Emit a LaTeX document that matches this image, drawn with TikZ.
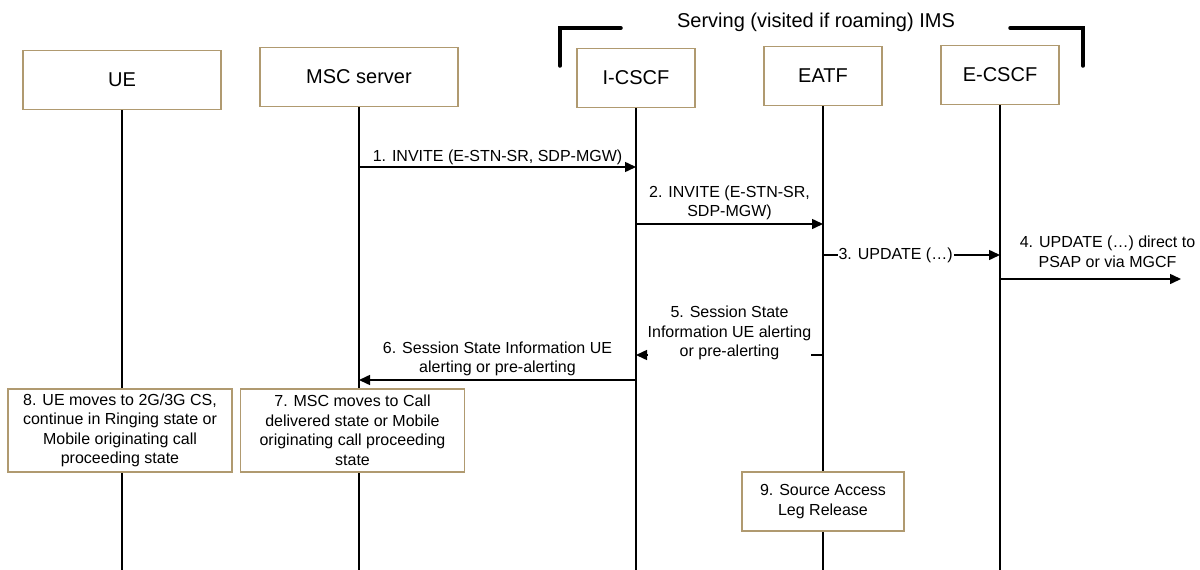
\documentclass[tikz,border=0pt]{standalone}
\usepackage{fontspec}
\setmainfont{Liberation Sans}
\usepackage{xcolor}
\usepackage{tikz}
\usetikzlibrary{arrows.meta, positioning}
\definecolor{boxline}{HTML}{B09A70}

\begin{document}
\begin{tikzpicture}[
    x=1pt, y=-1pt,
    entity/.style={rectangle, draw=boxline, line width=1.5pt, fill=white, minimum height=59pt, font=\fontsize{20}{24}\selectfont},
    wide/.style={entity, minimum width=198pt},
    narrow/.style={entity, minimum width=118pt},
    stepbox/.style={rectangle, draw=boxline, line width=1.5pt, fill=white, align=center, inner sep=2pt, font=\fontsize{16}{19.5}\selectfont},
    lifeline/.style={line width=1.3pt},
    msg/.style={-{Triangle[length=11pt,width=10pt]}, line width=1.5pt},
    lbl/.style={align=center, font=\fontsize{16}{19.5}\selectfont, inner sep=1pt},
    bracket/.style={line width=3.5pt, line cap=round}
  ]

    \useasboundingbox (0,0) rectangle (1200,570);

    % heads
    \node[wide] (ue) at (122,80) {UE};
    \node[wide] (msc) at (359,77) {MSC server};
    \node[narrow] (icscf) at (636,78) {I-CSCF};
    \node[narrow] (eatf) at (823,76) {EATF};
    \node[narrow] (ecscf) at (1000,75) {E-CSCF};

    % IMS bracket
    \node[font=\fontsize{20}{24}\selectfont] (ims) at (816,22) {Serving (visited if roaming) IMS};
    \draw[bracket] (560,66) -- (560,28) -- (621,28);
    \draw[bracket] (1010,28) -- (1083,28) -- (1083,66);

    \foreach \n in {ue, msc, icscf, eatf, ecscf}
      \draw[lifeline] (\n.south) -- (\n.south |- 0,570);

    \coordinate (psap) at (1181,279);

    % messages
    \draw[msg] (msc |- 0,167) -- node[lbl, above] {1. INVITE (E-STN-SR, SDP-MGW)} (icscf |- 0,167);
    \draw[msg] (icscf |- 0,224) -- node[lbl, above, yshift=2pt] {2. INVITE (E-STN-SR,\\SDP-MGW)} (eatf |- 0,224);
    \draw[msg] (eatf |- 0,255) -- node[lbl, fill=white, pos=0.41] {3. UPDATE (…)} (ecscf |- 0,255);
    \draw[msg] (ecscf |- 0,279) -- node[lbl, above, xshift=17pt, yshift=10pt] {4. UPDATE (…) direct to\\PSAP or via MGCF} (psap);
    \draw[msg] (eatf |- 0,355) -- node[lbl, fill=white, inner xsep=0pt, yshift=22pt] {5. Session State\\Information UE alerting\\or pre-alerting} (icscf |- 0,355);
    \draw[msg] (icscf |- 0,380) -- node[lbl, above, yshift=2pt] {6. Session State Information UE\\alerting or pre-alerting} (msc |- 0,380);

    % steps
    \node[stepbox, minimum width=224pt, minimum height=83pt] (step7) at (352.5,430.5) {7. MSC moves to Call\\delivered state or Mobile\\originating call proceeding\\state};
    \node[stepbox, minimum width=224pt, minimum height=83pt] (step8) at (120,430.5) {8. UE moves to 2G/3G CS,\\continue in Ringing state or\\Mobile originating call\\proceeding state};
    \node[stepbox, minimum width=162pt, minimum height=59pt] (step9) at (823,501.5) {9. Source Access\\Leg Release};

  \end{tikzpicture}
\end{document}
